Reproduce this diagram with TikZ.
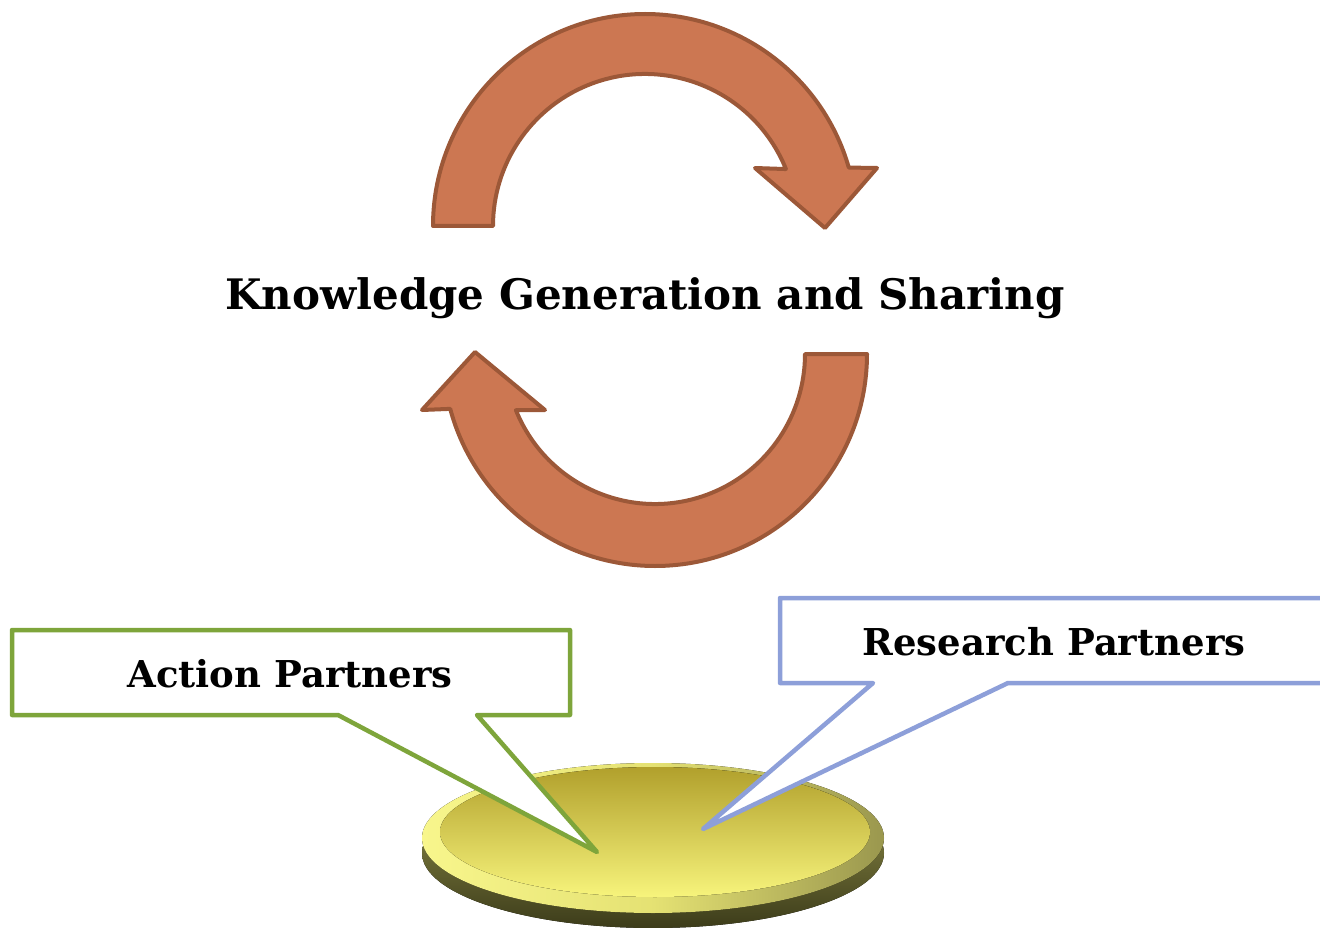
\documentclass[tikz,border=0pt]{standalone}
\usepackage{fontspec}
\usetikzlibrary{calc}
\newfontfamily\slabfont{DejaVu Serif}
\definecolor{arrowfill}{HTML}{CC7752}
\definecolor{arrowline}{HTML}{9C5838}
\definecolor{actiongreen}{HTML}{7EA53B}
\definecolor{researchblue}{HTML}{8D9FD9}
\definecolor{facedark}{HTML}{B1A02C}
\definecolor{facelight}{HTML}{F7F47C}
\definecolor{rimlight}{HTML}{F8F68C}
\definecolor{rimdark}{HTML}{9A974E}
\definecolor{sidedark}{HTML}{3C3C1A}
\tikzset{cyclearrow/.style={fill=arrowfill, draw=arrowline, line width=4pt, line join=round},
  calloutbox/.style={fill=white, line width=4.5pt, line join=round},
  titletext/.style={font=\slabfont\bfseries\fontsize{42}{48}\selectfont},
  labeltext/.style={font=\slabfont\bfseries\fontsize{37}{42}\selectfont}}

\begin{document}
\begin{tikzpicture}[x=1pt,y=-1pt]
\useasboundingbox (0,0) rectangle (1320,928);
\clip (0,0) rectangle (1320,928);
\coordinate (uc) at (645,226);
\coordinate (lc) at (655,354);
\coordinate (atip) at (597,852);
\coordinate (rtip) at (703,829);
\draw[cyclearrow] ($(uc)+(180:212)$) arc[start angle=180, end angle=344, radius=212] -- (877,168) -- (825,228) -- (755,168) -- ($(uc)+(338:152)$) arc[start angle=338, end angle=180, radius=152] -- cycle;
\draw[cyclearrow] ($(lc)+(0:212)$) arc[start angle=0, end angle=165, radius=212] -- (422,410) -- (475,352) -- (545,410) -- ($(lc)+(158:150)$) arc[start angle=158, end angle=0, radius=150] -- cycle;
\node[titletext] (title) at (645,298) {Knowledge Generation and Sharing};
\fill[top color=rimdark, bottom color=sidedark] (653,853) ellipse[x radius=231, y radius=75];
\fill[left color=rimlight, right color=rimdark, middle color=facelight!80!rimdark] (653,838) ellipse[x radius=231, y radius=75];
\fill[top color=facedark, bottom color=facelight] (655,832) ellipse[x radius=215, y radius=65];
\draw[calloutbox, draw=actiongreen] (12,630) -- (570,630) -- (570,715) -- (477,715) -- (atip) -- (338,715) -- (12,715) -- cycle;
\node[labeltext] (action) at (290,674) {Action Partners};
\draw[calloutbox, draw=researchblue] (780,598) -- (1340,598) -- (1340,683) -- (1008,683) -- (rtip) -- (873,683) -- (780,683) -- cycle;
\node[labeltext] (research) at (1054,642) {Research Partners};
\end{tikzpicture}
\end{document}
